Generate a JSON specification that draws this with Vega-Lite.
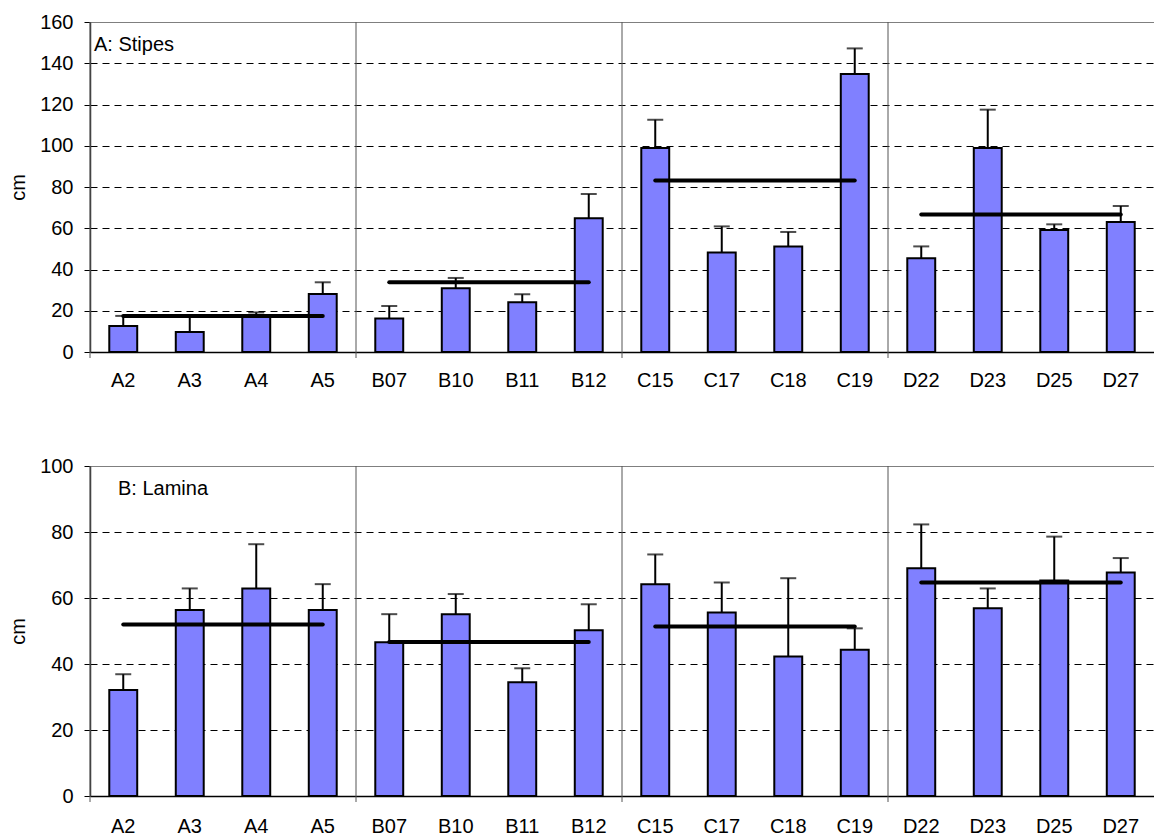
{
  "$schema": "https://vega.github.io/schema/vega-lite/v6.json",
  "padding": {"top": 12, "left": 8, "right": 0, "bottom": 0},
  "spacing": 66,
  "config": {
    "font": "Liberation Sans",
    "view": {"stroke": null},
    "axis": {"labelFont": "Liberation Sans", "titleFont": "Liberation Sans", "labelColor": "#000", "titleColor": "#000", "labelFontSize": 20, "titleFontSize": 20, "titleFontWeight": "normal"}
  },
  "datasets": {
    "stipes": [
      {"site": "A2", "value": 12.6, "err": 17.5},
      {"site": "A3", "value": 9.7, "err": 17.3},
      {"site": "A4", "value": 17.1, "err": 19.2},
      {"site": "A5", "value": 28.1, "err": 33.8},
      {"site": "B07", "value": 16.3, "err": 22.3},
      {"site": "B10", "value": 30.9, "err": 35.9},
      {"site": "B11", "value": 24.1, "err": 28.0},
      {"site": "B12", "value": 64.8, "err": 76.6},
      {"site": "C15", "value": 98.9, "err": 112.6},
      {"site": "C17", "value": 48.3, "err": 60.9},
      {"site": "C18", "value": 51.2, "err": 58.2},
      {"site": "C19", "value": 134.8, "err": 147.2},
      {"site": "D22", "value": 45.4, "err": 51.2},
      {"site": "D23", "value": 98.9, "err": 117.5},
      {"site": "D25", "value": 59.2, "err": 61.9},
      {"site": "D27", "value": 63.0, "err": 70.8}
    ],
    "stipesMean": [
      {"first": "A2", "last": "A5", "mean": 17.5},
      {"first": "B07", "last": "B12", "mean": 33.8},
      {"first": "C15", "last": "C19", "mean": 83.2},
      {"first": "D22", "last": "D27", "mean": 66.7}
    ],
    "lamina": [
      {"site": "A2", "value": 32.1, "err": 36.9},
      {"site": "A3", "value": 56.4, "err": 62.9},
      {"site": "A4", "value": 62.9, "err": 76.3},
      {"site": "A5", "value": 56.4, "err": 64.2},
      {"site": "B07", "value": 46.6, "err": 55.1},
      {"site": "B10", "value": 55.1, "err": 61.2},
      {"site": "B11", "value": 34.5, "err": 38.7},
      {"site": "B12", "value": 50.2, "err": 58.1},
      {"site": "C15", "value": 64.2, "err": 73.2},
      {"site": "C17", "value": 55.6, "err": 64.7},
      {"site": "C18", "value": 42.3, "err": 66.0},
      {"site": "C19", "value": 44.3, "err": 50.8},
      {"site": "D22", "value": 69.0, "err": 82.3},
      {"site": "D23", "value": 56.9, "err": 62.9},
      {"site": "D25", "value": 65.3, "err": 78.6},
      {"site": "D27", "value": 67.7, "err": 72.1}
    ],
    "laminaMean": [
      {"first": "A2", "last": "A5", "mean": 52.0},
      {"first": "B07", "last": "B12", "mean": 46.7},
      {"first": "C15", "last": "C19", "mean": 51.4},
      {"first": "D22", "last": "D27", "mean": 64.7}
    ],
    "groups": [
      {"site": "A2"}, {"site": "B07"}, {"site": "C15"}, {"site": "D22"}
    ]
  },
  "vconcat": [
    {
      "width": 1064,
      "height": 330,
      "encoding": {
        "x": {"field": "site", "type": "nominal", "sort": null,
          "scale": {"domain": ["A2","A3","A4","A5","B07","B10","B11","B12","C15","C17","C18","C19","D22","D23","D25","D27"], "paddingInner": 0, "paddingOuter": 0},
          "axis": {"title": null, "labelAngle": 0, "ticks": false, "labelPadding": 18, "domainColor": "#000", "domainWidth": 1.5}}
      },
      "layer": [
        {
          "data": {"name": "groups"},
          "mark": {"type": "rule", "color": "#555", "strokeWidth": 1, "y2Offset": 6},
          "encoding": {
            "x": {"field": "site", "type": "nominal", "bandPosition": 0},
            "y": {"datum": 160, "type": "quantitative",
              "scale": {"domain": [0, 160], "nice": false},
              "axis": {"title": "cm", "values": [0,20,40,60,80,100,120,140,160], "tickSize": 6, "tickColor": "#000", "labelPadding": 11, "titlePadding": 11,
                "domainColor": "#333", "domainWidth": 1.5,
                "grid": true, "gridColor": {"condition": {"test": "datum.value === 160", "value": "#555"}, "value": "#000"},
                "gridDash": {"condition": {"test": "datum.value === 160", "value": [1, 0]}, "value": [7, 5]}}},
            "y2": {"datum": 0}
          }
        },
        {
          "data": {"name": "stipes"},
          "mark": {"type": "bar", "width": {"band": 0.42}, "fill": "#8080FF", "stroke": "#000", "strokeWidth": 2},
          "encoding": {"y": {"field": "value", "type": "quantitative"}}
        },
        {
          "data": {"name": "stipes"},
          "mark": {"type": "rule", "color": "#000", "strokeWidth": 2},
          "encoding": {"y": {"field": "value", "type": "quantitative"}, "y2": {"field": "err"}}
        },
        {
          "data": {"name": "stipes"},
          "mark": {"type": "tick", "color": "#000", "size": 16, "thickness": 2},
          "encoding": {"y": {"field": "err", "type": "quantitative"}}
        },
        {
          "data": {"name": "stipesMean"},
          "mark": {"type": "rule", "color": "#000", "strokeWidth": 4, "strokeCap": "round"},
          "encoding": {
            "x": {"field": "first", "type": "nominal"},
            "x2": {"field": "last"},
            "y": {"field": "mean", "type": "quantitative"}
          }
        },
        {
          "data": {"values": [{"site": "A2", "y": 149, "text": "A: Stipes"}]},
          "mark": {"type": "text", "align": "left", "baseline": "middle", "dx": 4, "fontSize": 20, "font": "Liberation Sans", "color": "#000"},
          "encoding": {
            "x": {"field": "site", "type": "nominal", "bandPosition": 0},
            "y": {"field": "y", "type": "quantitative"},
            "text": {"field": "text"}
          }
        }
      ]
    },
    {
      "width": 1064,
      "height": 330,
      "encoding": {
        "x": {"field": "site", "type": "nominal", "sort": null,
          "scale": {"domain": ["A2","A3","A4","A5","B07","B10","B11","B12","C15","C17","C18","C19","D22","D23","D25","D27"], "paddingInner": 0, "paddingOuter": 0},
          "axis": {"title": null, "labelAngle": 0, "ticks": false, "labelPadding": 20, "domainColor": "#000", "domainWidth": 1.5}}
      },
      "layer": [
        {
          "data": {"name": "groups"},
          "mark": {"type": "rule", "color": "#555", "strokeWidth": 1, "y2Offset": 6},
          "encoding": {
            "x": {"field": "site", "type": "nominal", "bandPosition": 0},
            "y": {"datum": 100, "type": "quantitative",
              "scale": {"domain": [0, 100], "nice": false},
              "axis": {"title": "cm", "values": [0,20,40,60,80,100], "tickSize": 6, "tickColor": "#000", "labelPadding": 11, "titlePadding": 11,
                "domainColor": "#333", "domainWidth": 1.5,
                "grid": true, "gridColor": {"condition": {"test": "datum.value === 100", "value": "#555"}, "value": "#000"},
                "gridDash": {"condition": {"test": "datum.value === 100", "value": [1, 0]}, "value": [7, 5]}}},
            "y2": {"datum": 0}
          }
        },
        {
          "data": {"name": "lamina"},
          "mark": {"type": "bar", "width": {"band": 0.42}, "fill": "#8080FF", "stroke": "#000", "strokeWidth": 2},
          "encoding": {"y": {"field": "value", "type": "quantitative"}}
        },
        {
          "data": {"name": "lamina"},
          "mark": {"type": "rule", "color": "#000", "strokeWidth": 2},
          "encoding": {"y": {"field": "value", "type": "quantitative"}, "y2": {"field": "err"}}
        },
        {
          "data": {"name": "lamina"},
          "mark": {"type": "tick", "color": "#000", "size": 16, "thickness": 2},
          "encoding": {"y": {"field": "err", "type": "quantitative"}}
        },
        {
          "data": {"name": "laminaMean"},
          "mark": {"type": "rule", "color": "#000", "strokeWidth": 4, "strokeCap": "round"},
          "encoding": {
            "x": {"field": "first", "type": "nominal"},
            "x2": {"field": "last"},
            "y": {"field": "mean", "type": "quantitative"}
          }
        },
        {
          "data": {"values": [{"site": "A2", "y": 93, "text": "B: Lamina"}]},
          "mark": {"type": "text", "align": "left", "baseline": "middle", "dx": 28, "fontSize": 20, "font": "Liberation Sans", "color": "#000"},
          "encoding": {
            "x": {"field": "site", "type": "nominal", "bandPosition": 0},
            "y": {"field": "y", "type": "quantitative"},
            "text": {"field": "text"}
          }
        }
      ]
    }
  ]
}
